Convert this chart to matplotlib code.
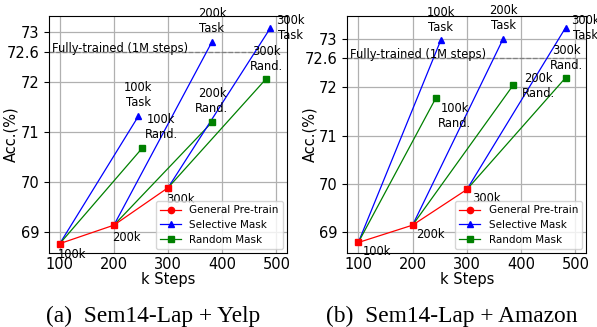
import matplotlib
matplotlib.use("Agg")
import matplotlib.pyplot as plt
from matplotlib.lines import Line2D

# ---------------- data ----------------
general_steps = [100, 200, 300]
general_labels = ["100k", "200k", "300k"]

# panel (a) Sem14-Lap + Yelp
a_general = [68.77, 69.14, 69.89]
a_task_x = [245, 381, 489]
a_task_y = [71.32, 72.81, 73.09]
a_rand_x = [252, 381, 481]
a_rand_y = [70.68, 71.20, 72.07]

# panel (b) Sem14-Lap + Amazon
b_general = [68.78, 69.14, 69.88]
b_task_x = [252, 367, 482]
b_task_y = [72.98, 73.01, 73.24]
b_rand_x = [243, 385, 482]
b_rand_y = [71.78, 72.04, 72.20]

full_trained = 72.6
yticks = [69, 70, 71, 72, 72.6, 73]
ytick_labels = ["69", "70", "71", "72", "72.6", "73"]
xticks = [100, 200, 300, 400, 500]
captions = ["(a)  Sem14-Lap + Yelp", "(b)  Sem14-Lap + Amazon"]

ANN = 8.3
fig = plt.figure(figsize=(5.97, 3.27), dpi=100)

def panel(rect, general, tx, ty, rx, ry, ylim, task_off, rand_off, gen_off, ft_x, ylab_x):
    ax = fig.add_axes(rect)
    ax.set_xlim(80, 520)
    ax.set_ylim(*ylim)
    ax.grid(True, color="#b0b0b0", linewidth=0.9)
    ax.set_axisbelow(True)
    for i, s in enumerate(general_steps):
        ax.plot([s, tx[i]], [general[i], ty[i]], color="blue", lw=0.9, zorder=3)
        ax.plot([tx[i]], [ty[i]], marker="^", color="blue", ms=4.5, zorder=4)
        ax.plot([s, rx[i]], [general[i], ry[i]], color="green", lw=0.9, zorder=3)
        ax.plot([rx[i]], [ry[i]], marker="s", color="green", ms=4.2, zorder=4)
    ax.plot(general_steps, general, color="red", lw=0.9, marker="s", ms=4.5, zorder=5)
    ax.plot([80, 500], [full_trained, full_trained], ls="--", color="gray", lw=0.9, zorder=2)
    ax.text(ft_x, full_trained, "Fully-trained (1M steps)", fontsize=ANN,
            va="baseline", ha="left", zorder=6)
    for i, lab in enumerate(general_labels):
        ax.annotate(lab + "\nTask", (tx[i], ty[i]), xytext=task_off[i],
                    textcoords="offset pixels", ha="center", va="center",
                    fontsize=ANN, annotation_clip=False)
        ax.annotate(lab + "\nRand.", (rx[i], ry[i]), xytext=rand_off[i],
                    textcoords="offset pixels", ha="center", va="center",
                    fontsize=ANN, annotation_clip=False)
        ax.annotate(lab, (general_steps[i], general[i]), xytext=gen_off[i],
                    textcoords="offset pixels", ha="center", va="center",
                    fontsize=ANN, zorder=1, annotation_clip=False)
    ax.set_xticks(xticks)
    ax.set_yticks(yticks)
    ax.set_yticklabels(ytick_labels)
    ax.tick_params(labelsize=10.5)
    ax.tick_params(axis="x", length=0, pad=2.5)
    ax.set_xlabel("k Steps", fontsize=10.5, labelpad=0.5)
    ax.set_ylabel("Acc.(%)", fontsize=10.5)
    ax.yaxis.set_label_coords(ylab_x, 0.5)
    handles = [
        Line2D([], [], color="red", marker="o", ms=4.5, lw=0.9, label="General Pre-train"),
        Line2D([], [], color="blue", marker="^", ms=4.5, lw=0.9, label="Selective Mask"),
        Line2D([], [], color="green", marker="s", ms=4.2, lw=0.9, label="Random Mask"),
    ]
    leg = ax.legend(handles=handles, loc="lower right", fontsize=7.5,
                    labelspacing=0.45, borderaxespad=0.4)
    leg.set_zorder(7)
    return ax

panel([0.082, 0.226, 0.399, 0.725], a_general, a_task_x, a_task_y, a_rand_x, a_rand_y,
      (68.58, 73.33),
      [(0, 21), (0, 21), (20, 0)],
      [(19, 21), (0, 21), (0, 20)],
      [(12, -11), (12, -12), (12, -12)],
      85, -0.13)
panel([0.582, 0.226, 0.400, 0.725], b_general, b_task_x, b_task_y, b_rand_x, b_rand_y,
      (68.56, 73.48),
      [(0, 20), (0, 21), (20, 0)],
      [(19, -18), (25, -1), (1, 20)],
      [(19, -9), (18, -9), (19, -9)],
      84, -0.127)

fig.text(153.5 / 597, 1 - 316 / 327, captions[0], fontsize=16.8,
         family="Liberation Serif", ha="center", va="center")
fig.text(451.5 / 597, 1 - 316 / 327, captions[1], fontsize=16.8,
         family="Liberation Serif", ha="center", va="center")

fig.savefig("out.png", dpi=100)
